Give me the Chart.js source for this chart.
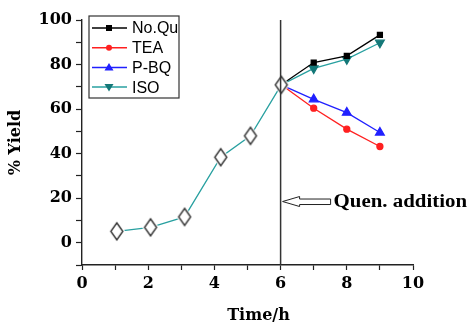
<!DOCTYPE html>
<html>
<head>
<meta charset="utf-8">
<script src="https://cdn.jsdelivr.net/npm/chart.js@4.4.1/dist/chart.umd.min.js"></script>
<style>
  html, body { margin: 0; padding: 0; background: #fff; }
  #wrap { width: 469px; height: 329px; }
</style>
</head>
<body>
<div id="wrap"><canvas id="chart" width="469" height="329"></canvas></div>
<script>
// Yield before quencher addition (open diamonds)
const timeBefore = [1.05, 2.07, 3.1, 4.19, 5.09, 6.02];
const yieldBefore = [5.1, 6.9, 11.6, 38.4, 48.0, 70.9];

// After quencher addition at 6 h
const timeAfter = [6.02, 7, 8, 9];
const noQu = [70.9, 80.9, 83.9, 93.3];
const tea = [70.9, 60.4, 51.0, 43.2];
const pbq = [70.9, 64.4, 58.4, 49.5];
const iso = [70.9, 78.3, 82.4, 89.8];

const seriesNames = ['No.Qu', 'TEA', 'P-BQ', 'ISO'];
const quenchAt = 6;

const SERIF = '"DejaVu Serif", serif';
const TEAL = 'rgb(40,160,160)';
const DARK_TEAL = 'rgb(20,120,120)';

const pts = (xs, ys) => xs.map((x, i) => ({ x, y: ys[i] }));

// tall open diamond used as the point style of the first series
function makeDiamond(w, h) {
  const c = document.createElement('canvas');
  c.width = w + 6;
  c.height = h + 6;
  const g = c.getContext('2d');
  const cx = c.width / 2, cy = c.height / 2;
  const path = (dw, dh) => {
    g.beginPath();
    g.moveTo(cx, cy - dh / 2);
    g.lineTo(cx + dw / 2, cy);
    g.lineTo(cx, cy + dh / 2);
    g.lineTo(cx - dw / 2, cy);
    g.closePath();
  };
  g.fillStyle = '#fff';
  path(w + 5, h + 5);
  g.fill();
  path(w, h);
  g.strokeStyle = '#333';
  g.lineWidth = 1.4;
  g.stroke();
  return c;
}
const diamond = makeDiamond(12, 17);

const markerRadius = (ctx) => (ctx.dataIndex === 0 ? 0 : 4);

const colors = ['#000', '#ff2020', '#2020ff', TEAL];
const markerColors = ['#000', '#ff2020', '#2020ff', DARK_TEAL];
const markerStyles = ['rect', 'circle', 'triangle', 'triangle'];

// vertical line, arrow, label, legend and x title
const extras = {
  id: 'extras',
  afterDatasetsDraw(chart) {
    const { ctx, chartArea } = chart;
    const xs = chart.scales.x, ys = chart.scales.y;
    ctx.save();

    // line marking the addition time
    const qx = xs.getPixelForValue(quenchAt);
    ctx.strokeStyle = '#333';
    ctx.lineWidth = 1.5;
    ctx.beginPath();
    ctx.moveTo(qx, chartArea.top);
    ctx.lineTo(qx, chartArea.bottom);
    ctx.stroke();
    ctx.restore();
  },
  afterDraw(chart) {
    const { ctx, chartArea } = chart;
    const xs = chart.scales.x, ys = chart.scales.y;
    ctx.save();

    // hollow arrow pointing at the line
    const tx = xs.getPixelForValue(quenchAt) + 2;
    const ty = ys.getPixelForValue(18.5);
    ctx.beginPath();
    ctx.moveTo(tx, ty);
    ctx.lineTo(tx + 17, ty - 5);
    ctx.lineTo(tx + 17, ty - 2.5);
    ctx.lineTo(tx + 48, ty - 2.5);
    ctx.lineTo(tx + 48, ty + 3);
    ctx.lineTo(tx + 17, ty + 3);
    ctx.lineTo(tx + 17, ty + 5);
    ctx.closePath();
    ctx.fillStyle = '#fff';
    ctx.fill();
    ctx.strokeStyle = '#222';
    ctx.lineWidth = 1;
    ctx.stroke();

    // label, slightly stretched like the original
    ctx.save();
    ctx.translate(tx + 51, ty);
    ctx.scale(1.16, 1);
    ctx.font = 'bold 18px "Liberation Serif", serif';
    ctx.fillStyle = '#000';
    ctx.textBaseline = 'middle';
    ctx.fillText('Quen. addition', 0, 1);
    ctx.restore();

    // x axis title
    ctx.font = 'bold 16px ' + SERIF;
    ctx.fillStyle = '#000';
    ctx.textAlign = 'center';
    ctx.textBaseline = 'middle';
    ctx.fillText('Time/h', (chartArea.left + chartArea.right) / 2 + 11, 316);

    // legend box
    const lx = chartArea.left + 7, ly = chartArea.top - 4;
    const lw = 90, lh = 82;
    ctx.fillStyle = '#fff';
    ctx.fillRect(lx, ly, lw, lh);
    ctx.strokeStyle = '#333';
    ctx.lineWidth = 1.2;
    ctx.strokeRect(lx, ly, lw, lh);
    ctx.font = '16px "Liberation Sans", Arial, sans-serif';
    ctx.textAlign = 'left';
    seriesNames.forEach((name, i) => {
      const ry = ly + 12 + i * 19.7;
      ctx.strokeStyle = colors[i];
      ctx.lineWidth = 1.5;
      ctx.beginPath();
      ctx.moveTo(lx + 3, ry);
      ctx.lineTo(lx + 38, ry);
      ctx.stroke();
      ctx.fillStyle = markerColors[i];
      const mx = lx + 20;
      ctx.beginPath();
      if (i === 0) {
        ctx.rect(mx - 3, ry - 3, 6, 6);
      } else if (i === 1) {
        ctx.arc(mx, ry, 3, 0, Math.PI * 2);
      } else if (i === 2) {
        ctx.moveTo(mx, ry - 4.5);
        ctx.lineTo(mx + 4.5, ry + 3);
        ctx.lineTo(mx - 4.5, ry + 3);
      } else {
        ctx.moveTo(mx, ry + 4.5);
        ctx.lineTo(mx + 4.5, ry - 3);
        ctx.lineTo(mx - 4.5, ry - 3);
      }
      ctx.closePath();
      ctx.fill();
      ctx.fillStyle = '#000';
      ctx.fillText(name, lx + 43, ry + 1);
    });
    ctx.restore();
  },
};

const afterSets = [noQu, tea, pbq, iso].map((vals, i) => ({
  label: seriesNames[i],
  data: pts(timeAfter, vals),
  borderColor: colors[i],
  backgroundColor: markerColors[i],
  pointBorderColor: markerColors[i],
  pointStyle: markerStyles[i],
  pointRotation: i === 3 ? 180 : 0,
  pointRadius: i === 1 ? (c) => (c.dataIndex === 0 ? 0 : 3) : i === 0 ? (c) => (c.dataIndex === 0 ? 0 : 3.5) : (c) => (c.dataIndex === 0 ? 0 : 5),
  borderWidth: 1.3,
  tension: 0,
  order: 1,
}));

new Chart(document.getElementById('chart'), {
  type: 'line',
  data: {
    datasets: [
      {
        label: 'before',
        data: pts(timeBefore, yieldBefore),
        borderColor: TEAL,
        borderWidth: 1.3,
        pointStyle: diamond,
        tension: 0,
        order: 0,
      },
      ...afterSets,
    ],
  },
  plugins: [extras],
  options: {
    responsive: false,
    animation: false,
    layout: { padding: { top: 20, right: 56, left: 0, bottom: 0 } },
    plugins: { legend: { display: false }, tooltip: { enabled: false } },
    scales: {
      x: {
        type: 'linear',
        min: 0,
        max: 10,
        afterFit: (s) => { s.height = 64; },
        border: { color: '#222', width: 1.4 },
        grid: { drawOnChartArea: false, tickLength: 5, tickColor: '#222', tickWidth: 1.2 },
        ticks: {
          stepSize: 1,
          maxRotation: 0,
          autoSkip: false,
          padding: 4,
          color: '#000',
          font: { family: SERIF, weight: 'bold', size: 16 },
          callback: (v) => (v % 2 === 0 ? v : ''),
        },
      },
      y: {
        min: -10,
        max: 100,
        afterFit: (s) => { s.width = 82; },
        border: { color: '#222', width: 1.4 },
        grid: { drawOnChartArea: false, tickLength: 6, tickColor: '#222', tickWidth: 1.2 },
        ticks: {
          stepSize: 10,
          autoSkip: false,
          padding: 4,
          color: '#000',
          font: { family: SERIF, weight: 'bold', size: 16 },
          callback: (v) => (v >= 0 && v % 20 === 0 ? v : ''),
        },
        title: {
          display: true,
          text: '% Yield',
          color: '#000',
          font: { family: SERIF, weight: 'bold', size: 16 },
          padding: { top: 6, bottom: 0 },
        },
      },
    },
  },
});
</script>
</body>
</html>
